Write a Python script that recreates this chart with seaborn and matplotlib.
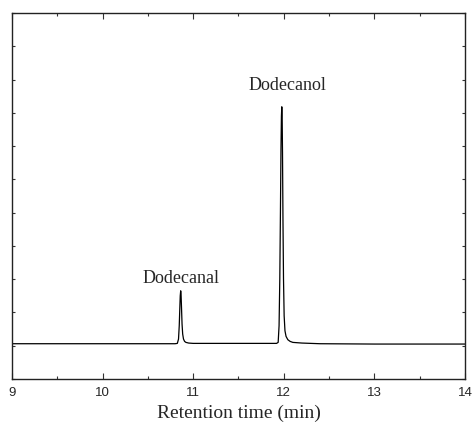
import matplotlib
matplotlib.use("Agg")
import matplotlib.pyplot as plt
import seaborn as sns
import pandas as pd
from matplotlib.ticker import MultipleLocator

# Retention time (min) and detector signal (arbitrary units)
time = [9.00, 10.00, 10.80, 10.825, 10.838, 10.846, 10.852, 10.857, 10.862,
        10.866, 10.871, 10.877, 10.884, 10.893, 10.905, 10.92, 10.95, 11.00,
        11.50, 11.92, 11.938, 11.948, 11.956, 11.963, 11.969, 11.974, 11.978,
        11.982, 11.986, 11.991, 11.997, 12.004, 12.013, 12.025, 12.045,
        12.07, 12.10, 12.20, 12.40, 13.00, 14.00]
signal = [1.06, 1.06, 1.06, 1.07, 1.20, 1.60, 2.10, 2.50, 2.65,
          2.55, 2.15, 1.65, 1.35, 1.20, 1.13, 1.10, 1.08, 1.07,
          1.07, 1.07, 1.10, 1.60, 3.00, 5.00, 6.90, 7.90, 8.18,
          7.90, 6.80, 4.80, 3.00, 1.90, 1.45, 1.28, 1.18,
          1.13, 1.10, 1.08, 1.06, 1.05, 1.05]

peak_names = ["Dodecanal", "Dodecanol"]
label_x = [10.87, 12.04]
label_y = [2.88, 8.67]

x_ticks = [9, 10, 11, 12, 13, 14]

df = pd.DataFrame({"time": time, "signal": signal})

sns.set_style("ticks")
fig = plt.figure(figsize=(4.73, 4.32), dpi=100)
ax = fig.add_axes([0.0254, 0.1227, 0.983 - 0.0254, 0.970 - 0.1227])

sns.lineplot(data=df, x="time", y="signal", ax=ax, color="black",
             linewidth=0.9, estimator=None, sort=False)

ax.set_xlim(9, 14)
ax.set_ylim(0, 11)
ax.set_xticks(x_ticks)
ax.set_xticklabels([str(t) for t in x_ticks], fontfamily="Liberation Sans", fontsize=9.5)
ax.xaxis.set_minor_locator(MultipleLocator(0.5))
ax.yaxis.set_major_locator(MultipleLocator(1))
ax.set_yticklabels([])
ax.tick_params(axis="both", which="major", direction="in", top=True, right=True,
               length=4, width=0.8, color="#333333", pad=6)
ax.tick_params(axis="y", which="major", length=2)
ax.tick_params(axis="x", which="minor", direction="in", top=True, length=2.5,
               width=0.8, color="#333333")
for s in ax.spines.values():
    s.set_linewidth(1.0)
    s.set_color("#222222")

ax.set_xlabel("Retention time (min)", fontfamily="Liberation Serif", fontsize=14,
              labelpad=4)
ax.set_ylabel("")

for name, xx, yy in zip(peak_names, label_x, label_y):
    ax.text(xx, yy, name, ha="center", va="baseline",
            fontfamily="Liberation Serif", fontsize=13)

fig.savefig("out.png", dpi=100)
